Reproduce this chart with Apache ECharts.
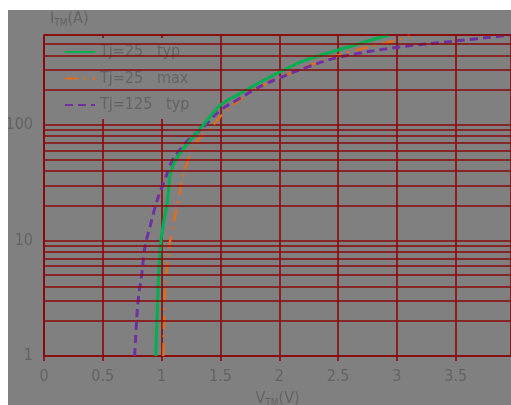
<!DOCTYPE html>
<html>
<head>
<meta charset="utf-8">
<script src="https://cdn.jsdelivr.net/npm/echarts@6/dist/echarts.min.js"></script>
<style>
  html, body { margin: 0; padding: 0; background: #fff; }
  #chart { position: absolute; left: 8px; top: 10px; width: 503px; height: 395px; background: #808080; }
</style>
</head>
<body>
<div id="chart"></div>
<script>
// Tj=25 typ
const typ25V = [0.95, 0.96, 0.975, 0.995, 1.02, 1.05, 1.075, 1.12, 1.2, 1.355, 1.5, 1.64, 1.92, 2.0, 2.2, 2.5, 2.93];
const typ25I = [1, 2, 5, 10, 15, 22, 38, 50, 65, 100, 148, 181, 260, 285, 356, 445, 600];
// Tj=25 max
const max25V = [1.015, 1.03, 1.065, 1.085, 1.14, 1.2, 1.31, 1.4, 1.525, 1.68, 1.89, 2.0, 2.3, 2.6, 3.03, 3.11];
const max25I = [1, 3.5, 8.8, 11.5, 22, 42, 74, 90, 126, 169, 228, 255, 340, 429, 552, 600];
// Tj=125 typ
const typ125V = [0.77, 0.78, 0.8, 0.83, 0.86, 0.9, 0.96, 1.02, 1.09, 1.14, 1.21, 1.355, 1.5, 1.64, 1.78, 1.89, 2.0, 2.25, 2.52, 3.03, 3.51, 3.97];
const typ125I = [1, 1.5, 3, 5, 9, 13, 22, 32, 49, 58, 71, 96, 134, 164, 200, 228, 255, 320, 388, 473, 534, 600];

const seriesNames = ['Tj=25   typ', 'Tj=25   max', 'Tj=125   typ'];
const minorGrid = [2, 3, 4, 5, 6, 7, 8, 9, 20, 30, 40, 50, 60, 70, 80, 90, 200, 300, 400, 500, 600];

const font = "'Liberation Sans Narrow', 'DejaVu Sans Condensed', sans-serif";
const red = '#8a0808';
const gridW = 1.6;
const txt = '#636363';
const fs = 16;

function zip(xs, ys) {
    return xs.map((x, i) => [x, ys[i]]);
}

const chart = echarts.init(document.getElementById('chart'));
chart.setOption({
    animation: false,
    textStyle: {fontFamily: font},
    grid: {left: 36, top: 25, right: 0, bottom: 49, outerBoundsMode: 'none', containLabel: false},
    legend: {
        data: seriesNames,
        orient: 'vertical',
        left: 42,
        top: 28,
        padding: [6, 8, 6, 14],
        backgroundColor: '#808080',
        itemWidth: 30,
        itemHeight: 14,
        itemGap: 10.5,
        itemStyle: {opacity: 0},
        textStyle: {color: txt, fontSize: fs, fontFamily: font}
    },
    xAxis: {
        type: 'value',
        min: 0,
        max: 3.97,
        interval: 0.5,
        name: '{a|V}{b|TM}{a|(V)}',
        nameLocation: 'middle',
        nameGap: 34,
        nameTextStyle: {
            rich: {
                a: {fontSize: fs, color: txt, fontFamily: font},
                b: {fontSize: 10, color: txt, fontFamily: font, padding: [8, 0, 0, 0]}
            }
        },
        axisLine: {lineStyle: {color: red, width: gridW}},
        axisTick: {show: true, length: 5, lineStyle: {color: red, width: gridW}},
        axisLabel: {color: txt, fontSize: fs, margin: 13, showMaxLabel: false, fontFamily: font},
        splitLine: {show: true, lineStyle: {color: red, width: gridW}}
    },
    yAxis: {
        type: 'log',
        logBase: 10,
        min: 1,
        max: 600,
        name: '{a|I}{b|TM}{a|(A)}',
        nameLocation: 'end',
        nameGap: 7,
        nameTextStyle: {
            align: 'left',
            padding: [0, 0, 0, 6],
            rich: {
                a: {fontSize: fs, color: txt, fontFamily: font},
                b: {fontSize: 10, color: txt, fontFamily: font, padding: [8, 0, 0, 0]}
            }
        },
        axisLine: {show: true, lineStyle: {color: red, width: gridW}},
        axisTick: {show: false},
        axisLabel: {
            color: txt, fontSize: fs, margin: 11, fontFamily: font,
            showMaxLabel: false,
            formatter: v => ([1, 10, 100].indexOf(Math.round(v)) >= 0 ? String(Math.round(v)) : '')
        },
        splitLine: {show: true, lineStyle: {color: red, width: gridW}}
    },
    series: [
        {
            name: 'grid',
            type: 'line',
            data: [],
            z: 1,
            markLine: {
                silent: true,
                symbol: 'none',
                label: {show: false},
                lineStyle: {color: red, type: 'solid', width: gridW},
                data: minorGrid.map(v => ({yAxis: v}))
            }
        },
        {
            name: seriesNames[0],
            type: 'line',
            data: zip(typ25V, typ25I),
            smooth: 0.4,
            symbol: 'none',
            color: '#00b050',
            lineStyle: {color: '#00b050', width: 3},
            z: 4
        },
        {
            name: seriesNames[1],
            type: 'line',
            data: zip(max25V, max25I),
            smooth: 0.4,
            symbol: 'none',
            color: '#e06c1c',
            lineStyle: {color: '#e06c1c', width: 2.5, type: [13, 6, 2, 6]},
            z: 3
        },
        {
            name: seriesNames[2],
            type: 'line',
            data: zip(typ125V, typ125I),
            smooth: 0.4,
            symbol: 'none',
            color: '#7030a0',
            lineStyle: {color: '#7030a0', width: 3, type: [8, 5]},
            z: 3
        }
    ]
});
</script>
</body>
</html>
